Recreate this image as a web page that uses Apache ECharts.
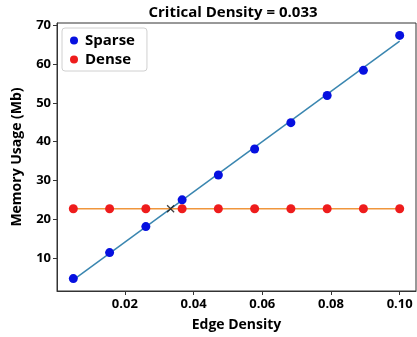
<!DOCTYPE html>
<html>
<head>
<meta charset="utf-8">
<script src="https://cdn.jsdelivr.net/npm/echarts@6/dist/echarts.min.js"></script>
<style>
  html, body { margin: 0; padding: 0; background: #fff; }
  #chart { width: 417px; height: 337px; }
</style>
</head>
<body>
<div id="chart"></div>
<script>
// edge densities (np.linspace(0.005, 0.1, 10) style)
const edgeDensity = [0.005, 0.01556, 0.02611, 0.03667, 0.04722, 0.05778, 0.06833, 0.07889, 0.08944, 0.1];
const sparseMem = [4.7, 11.4, 18.1, 25.0, 31.4, 38.1, 44.9, 51.9, 58.4, 67.4];
const denseMem = [22.7, 22.7, 22.7, 22.7, 22.7, 22.7, 22.7, 22.7, 22.7, 22.7];
const xTicks = [0.02, 0.04, 0.06, 0.08, 0.10];
const yTicks = [10, 20, 30, 40, 50, 60, 70];

// least squares fit
function fit(xs, ys) {
  const n = xs.length;
  const mx = xs.reduce((a, b) => a + b, 0) / n;
  const my = ys.reduce((a, b) => a + b, 0) / n;
  let sxy = 0, sxx = 0;
  for (let i = 0; i < n; i++) {
    sxy += (xs[i] - mx) * (ys[i] - my);
    sxx += (xs[i] - mx) * (xs[i] - mx);
  }
  const a = sxy / sxx;
  return { a, b: my - a * mx };
}
const fs = fit(edgeDensity, sparseMem);
const fd = fit(edgeDensity, denseMem);
const xc = (fd.b - fs.b) / (fs.a - fd.a);
const yc = fs.a * xc + fs.b;
const x0 = edgeDensity[0], x1 = edgeDensity[edgeDensity.length - 1];

const font = '"Open Sans", "Noto Sans", sans-serif';
const chart = echarts.init(document.getElementById('chart'), null, { renderer: 'canvas' });

chart.setOption({
  animation: false,
  title: {
    text: 'Critical Density = ' + xc.toFixed(3),
    left: 228, top: 0, textAlign: 'center',
    textStyle: { fontFamily: font, fontWeight: 'bold', fontSize: 15, color: '#000' }
  },
  grid: {
    left: 57, right: 1, top: 23, bottom: 45,
    show: true, borderColor: '#333', borderWidth: 1, backgroundColor: '#fff'
  },
  legend: {
    left: 62, top: 28, orient: 'vertical',
    data: ['Sparse', 'Dense'],
    icon: 'circle', itemWidth: 8, itemHeight: 8, itemGap: 4,
    padding: [5, 12, 4, 8],
    borderColor: '#d0d0d0', borderWidth: 1, borderRadius: 3, backgroundColor: '#fff',
    textStyle: { fontFamily: font, fontWeight: 'bold', fontSize: 15, color: '#000', padding: [0, 0, 0, 2] }
  },
  xAxis: {
    type: 'value', min: 0.00025, max: 0.10475,
    name: 'Edge Density', nameLocation: 'middle', nameGap: 27,
    nameTextStyle: { fontFamily: font, fontWeight: 'bold', fontSize: 14, color: '#000' },
    axisLine: { show: true, lineStyle: { color: '#333' } },
    axisTick: { show: true, length: 4, customValues: xTicks, lineStyle: { color: '#333' } },
    axisLabel: {
      customValues: xTicks, margin: 7,
      fontFamily: font, fontWeight: 'bold', fontSize: 13, color: '#000',
      formatter: v => v.toFixed(2)
    },
    splitLine: { show: false }
  },
  yAxis: {
    type: 'value', min: 1.5, max: 70.6,
    name: 'Memory Usage (Mb)', nameLocation: 'middle', nameGap: 33,
    nameTextStyle: { fontFamily: font, fontWeight: 'bold', fontSize: 14, color: '#000' },
    axisLine: { show: true, lineStyle: { color: '#333' } },
    axisTick: { show: true, length: 4, customValues: yTicks, lineStyle: { color: '#333' } },
    axisLabel: {
      customValues: yTicks, margin: 6,
      fontFamily: font, fontWeight: 'bold', fontSize: 13, color: '#000'
    },
    splitLine: { show: false }
  },
  series: [
    {
      type: 'line', z: 2, symbol: 'none',
      data: [[x0, fs.a * x0 + fs.b], [x1, fs.a * x1 + fs.b]],
      lineStyle: { color: '#3a86b0', width: 1.5 }
    },
    {
      type: 'line', z: 2, symbol: 'none',
      data: [[x0, fd.a * x0 + fd.b], [x1, fd.a * x1 + fd.b]],
      lineStyle: { color: '#f0963c', width: 1.5 }
    },
    {
      name: 'Sparse', type: 'scatter', z: 3, symbolSize: 9,
      data: edgeDensity.map((x, i) => [x, sparseMem[i]]),
      itemStyle: { color: '#0610e0', opacity: 1 }
    },
    {
      name: 'Dense', type: 'scatter', z: 3, symbolSize: 9,
      data: edgeDensity.map((x, i) => [x, denseMem[i]]),
      itemStyle: { color: '#ee1c1c', opacity: 1 }
    },
    {
      type: 'scatter', z: 4, symbol: 'path://M0,0L10,10M10,0L0,10', symbolSize: 7,
      data: [[xc, yc]],
      itemStyle: { color: 'none', borderColor: '#111', borderWidth: 1.3 }
    }
  ]
});
</script>
</body>
</html>
